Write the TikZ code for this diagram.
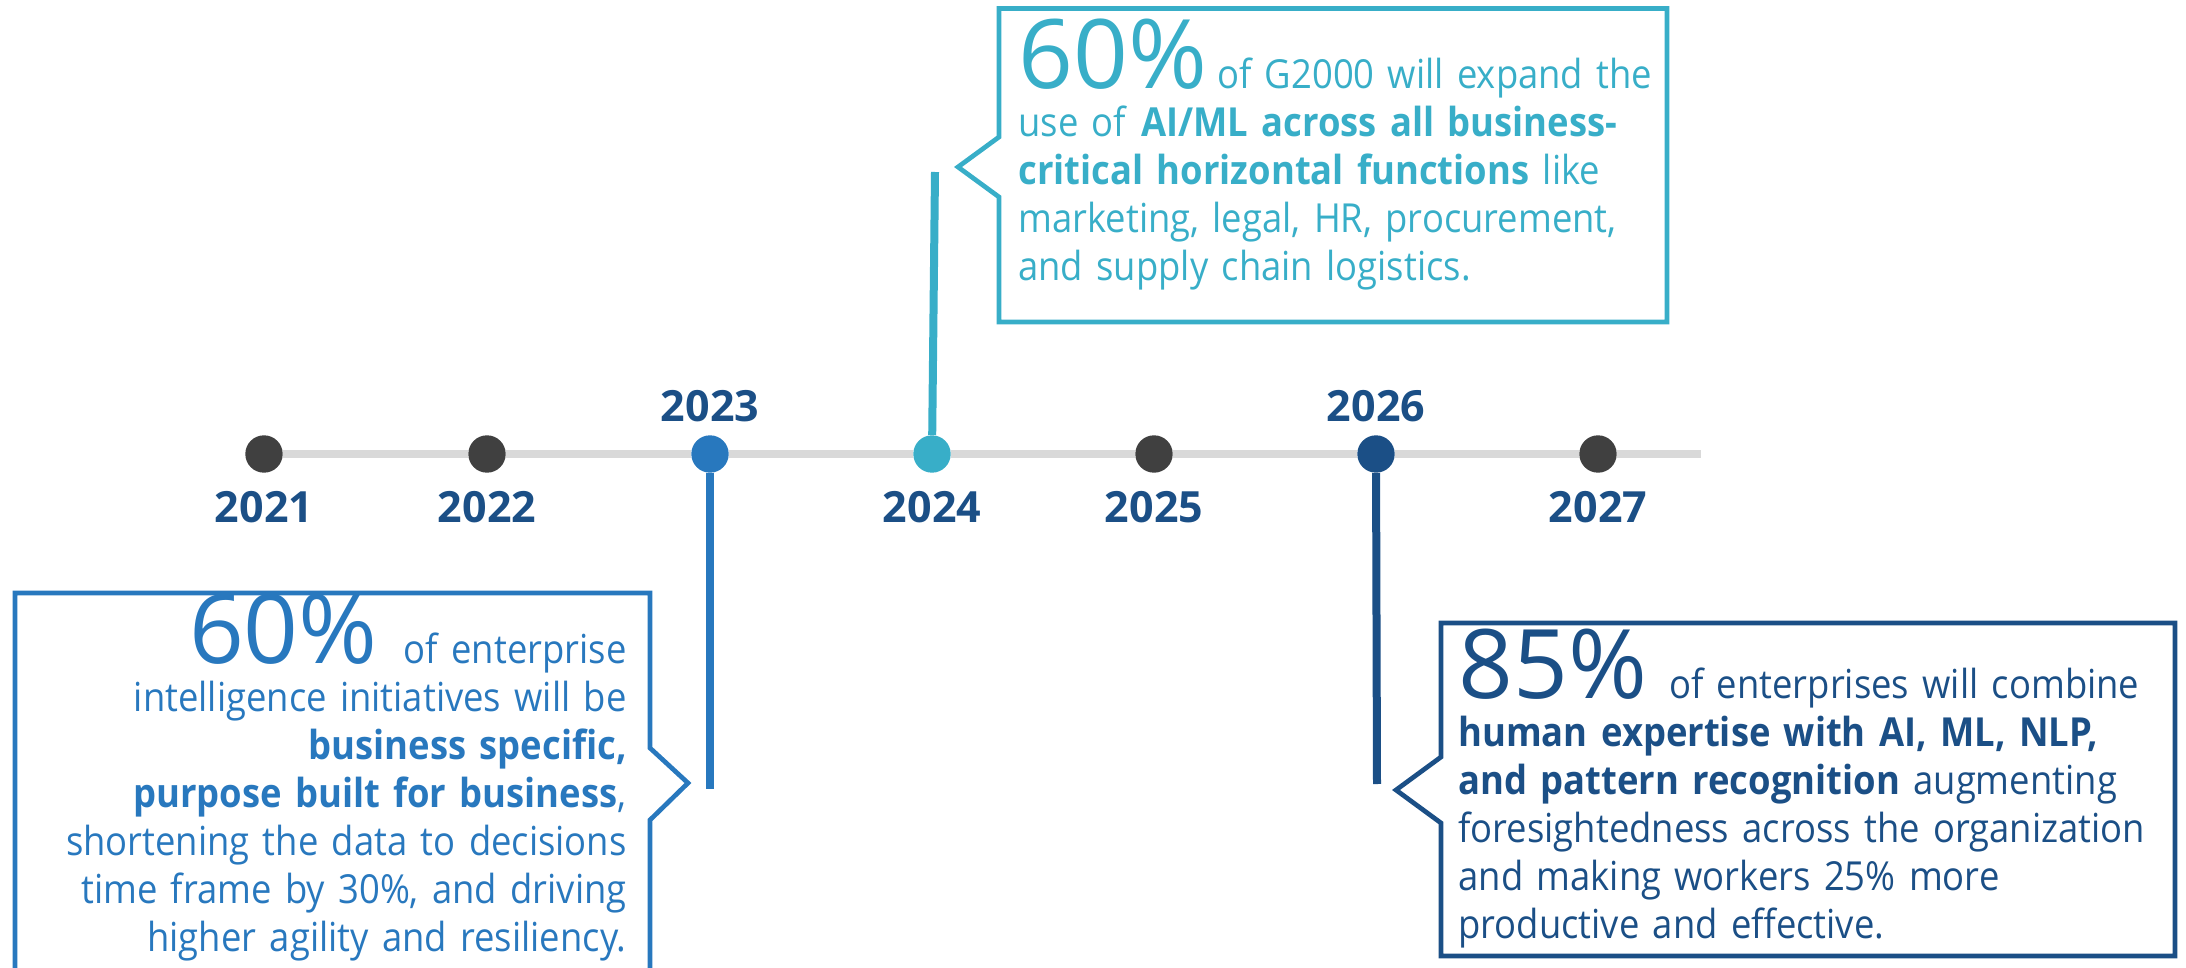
\documentclass[tikz,border=0pt]{standalone}
\usepackage{fontspec}
\setmainfont{Open Sans}[FakeStretch=0.91]
\newfontfamily\numfont{Open Sans}
\usetikzlibrary{positioning}

\definecolor{dotgray}{HTML}{404040}
\definecolor{linegray}{HTML}{D9D9D9}
\definecolor{blueA}{HTML}{2878BE}
\definecolor{tealA}{HTML}{38AEC8}
\definecolor{navyA}{HTML}{1B4F86}

\newcommand{\bignum}[1]{{\numfont\fontsize{48}{24}\selectfont #1}}

\begin{document}
\begin{tikzpicture}[x=0.5pt, y=-0.5pt,
    dot/.style={circle, fill=dotgray, minimum size=18.7pt, inner sep=0pt},
    year/.style={font=\numfont\bfseries\fontsize{21.5}{24}\selectfont, text=navyA, inner sep=0pt},
    timeline/.style={draw=linegray, line width=4pt},
    stem/.style={line width=4pt},
    callout/.style={line width=2.35pt, line join=miter},
    blurb/.style={inner sep=0pt, text width=360pt, font=\fontsize{20}{24}\selectfont}]
    \useasboundingbox (0,0) rectangle (2186,968);

    \node[dot] (1) at (264,454) {};
    \node[dot] (2) at (487,454) {};
    \node[dot, fill=blueA] (3) at (710,454) {};
    \node[dot, fill=tealA] (4) at (932,454) {};
    \node[dot] (5) at (1154,454) {};
    \node[dot, fill=navyA] (6) at (1376,454) {};
    \node[dot] (7) at (1598,454) {};
    \coordinate (end) at (1701,454);

    \node[year, below=18.5pt] at (1) {2021};
    \node[year, below=18.5pt] at (2) {2022};
    \node[year, above=16pt] at (3) {2023};
    \node[year, below=18.5pt] at (4) {2024};
    \node[year, below=18.5pt] at (5) {2025};
    \node[year, above=16pt] at (6) {2026};
    \node[year, below=18.5pt] at (7) {2027};

    \draw[timeline] (1) -- (2) -- (3) -- (4) -- (5) -- (6) -- (7) -- (end);

    \coordinate (e3) at (710,789);
    \coordinate (e4) at (935,172);
    \coordinate (e6) at (1377,784);
    \draw[stem, blueA] (3) -- (e3);
    \draw[stem, tealA] (4) -- (e4);
    \draw[stem, navyA] (6) -- (e6);

    \draw[callout, tealA] (999,8.5) -- (1667,8.5) -- (1667,322) -- (999,322)
        -- (999,197) -- (958,167) -- (999,137) -- cycle;
    \draw[callout, blueA] (15,975) -- (15,593) -- (650,593) -- (650,748)
        -- (688,783) -- (650,820) -- (650,975);
    \draw[callout, navyA] (1441,623) -- (2175,623) -- (2175,956) -- (1441,956)
        -- (1441,823) -- (1396,790) -- (1441,757) -- cycle;

    \node[blurb, text=blueA, align=right, anchor=base east] (t3) at (627,663)
        {\bignum{60\%}\hspace{13pt}of enterprise\\
         intelligence initiatives will be\\
         \textbf{business specific,}\\
         \textbf{purpose built for business},\\
         shortening the data to decisions\\
         time frame by 30\%, and driving\\
         higher agility and resiliency.};
    \node[blurb, text=tealA, align=left, anchor=base west] (t4) at (1018,89)
        {\bignum{60\%}\hspace{5pt}of G2000 will expand the\\
         use of \textbf{AI/ML across all business-}\\
         \textbf{critical horizontal functions} like\\
         marketing, legal, HR, procurement,\\
         and supply chain logistics.};
    \node[blurb, text=navyA, align=left, anchor=base west] (t6) at (1458,698)
        {\bignum{85\%}\hspace{11pt}of enterprises will combine\\
         \textbf{human expertise with AI, ML, NLP,}\\
         \textbf{and pattern recognition} augmenting\\
         foresightedness across the organization\\
         and making workers 25\% more\\
         productive and effective.};
\end{tikzpicture}
\end{document}
